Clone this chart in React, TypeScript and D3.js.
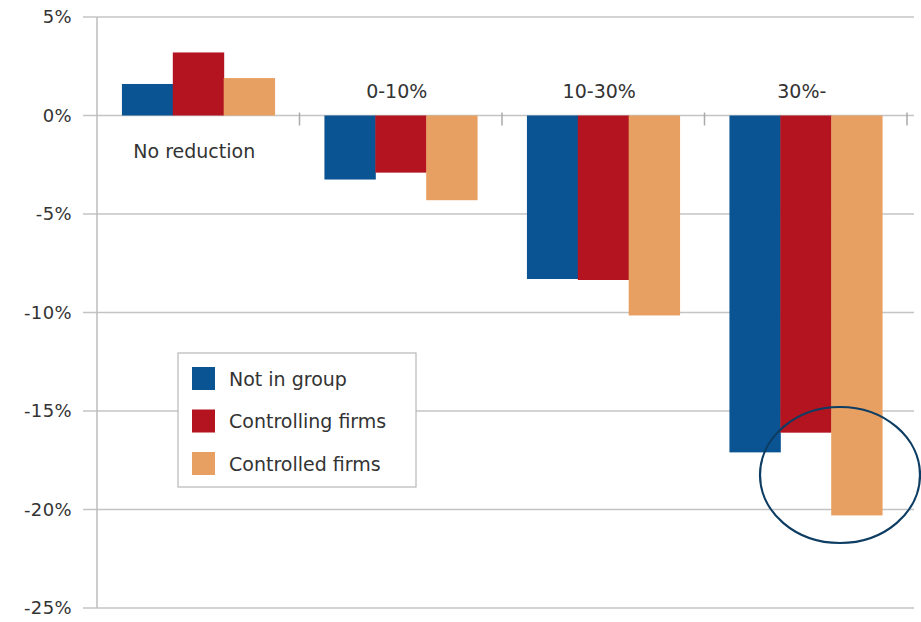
import React from "react";
import * as d3 from "d3";

const categories = ["No reduction", "0-10%", "10-30%", "30%-"];
const seriesNames = ["Not in group", "Controlling firms", "Controlled firms"];
const notInGroup = [1.6, -3.25, -8.3, -17.1];
const controllingFirms = [3.2, -2.9, -8.35, -16.1];
const controlledFirms = [1.9, -4.3, -10.15, -20.3];
const yTicks = [5, 0, -5, -10, -15, -20, -25];
const colors = ["#0a5494", "#b3141f", "#e8a062"];

const W = 921;
const H = 622;
const left = 97;
const right = 907;
const gridRight = 914;
const top = 17;
const bottom = 608;
const font = "'DejaVu Sans', sans-serif";

export default function App() {
  const series = [notInGroup, controllingFirms, controlledFirms];
  const y = d3.scaleLinear().domain([-25, 5]).range([bottom, top]);
  const x0 = d3.scaleBand<string>().domain(categories).range([left, right]).paddingInner(0).paddingOuter(0);
  const inner = d3
    .scaleBand<number>()
    .domain([0, 1, 2])
    .range([0, x0.bandwidth()])
    .paddingOuter(0.49)
    .paddingInner(0);
  const bw = inner.bandwidth();

  return (
    <svg width={W} height={H} style={{ position: "absolute", left: 0, top: 0, background: "#fff" }}>
      {yTicks.map((t) => (
        <g key={t}>
          <line x1={83} x2={gridRight} y1={y(t)} y2={y(t)} stroke="#c4c4c4" strokeWidth={1.5} />
          <text
            x={72}
            y={y(t)}
            dy="0.36em"
            textAnchor="end"
            fontFamily={font}
            fontSize={18}
            letterSpacing={0.4}
            fill="#333"
          >
            {`${t}%`}
          </text>
        </g>
      ))}
      <line x1={left} x2={left} y1={top} y2={bottom} stroke="#bcbcbc" strokeWidth={1.5} />
      {categories.map((c, ci) =>
        series.map((s, si) => {
          const v = s[ci];
          const bx = (x0(c) as number) + (inner(si) as number);
          const y1 = y(Math.max(0, v));
          const y2 = y(Math.min(0, v));
          return <rect key={`${ci}-${si}`} x={bx} y={y1} width={bw + 0.5} height={y2 - y1} fill={colors[si]} />;
        })
      )}
      {categories.map((c, ci) => (
        <line
          key={`tk${ci}`}
          x1={(x0(c) as number) + x0.bandwidth()}
          x2={(x0(c) as number) + x0.bandwidth()}
          y1={y(0) - 3}
          y2={y(0) + 10}
          stroke="#aaaaaa"
          strokeWidth={1.5}
        />
      ))}
      {categories.map((c, ci) => {
        const pos = series[0][ci] >= 0;
        return (
          <text
            key={`cl${ci}`}
            x={(x0(c) as number) + x0.bandwidth() / 2 - 4}
            y={pos ? y(0) + 42 : y(0) - 18}
            textAnchor="middle"
            fontFamily={font}
            fontSize={19}
            fill="#333"
          >
            {c}
          </text>
        );
      })}
      <rect x={178} y={353} width={238} height={134} fill="#fff" stroke="#b8b8b8" strokeWidth={1.2} />
      {seriesNames.map((n, i) => (
        <g key={n}>
          <rect x={192} y={367 + i * 42.5} width={23} height={23} fill={colors[i]} />
          <text x={229} y={379 + i * 42.5} dy="0.36em" fontFamily={font} fontSize={19} fill="#333">
            {n}
          </text>
        </g>
      ))}
      <ellipse cx={840} cy={475} rx={80} ry={68} fill="none" stroke="#0d3d63" strokeWidth={2.2} />
    </svg>
  );
}
